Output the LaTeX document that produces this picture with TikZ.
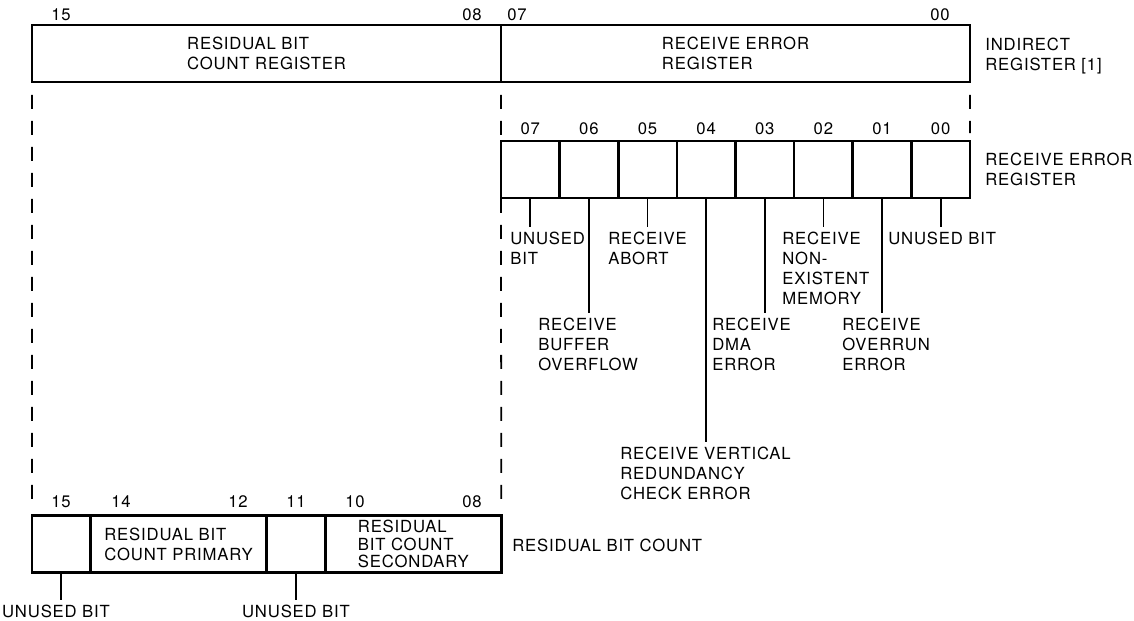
\documentclass[tikz,border=0pt]{standalone}
\usepackage{fontspec}
\setmainfont{TeX Gyre Heros}[LetterSpace=5]
\usetikzlibrary{positioning}

\begin{document}
\begin{tikzpicture}[x=0.02cm, y=-0.02cm,
    reg/.style={draw, line width=1.5pt, minimum height=1.14cm, inner sep=0pt, outer sep=0pt, align=left, font=\fontsize{9.5}{11.4}\selectfont},
    cell/.style={reg, minimum width=1.1725cm},
    lbl/.style={inner sep=0pt, align=left, font=\fontsize{9.5}{11.4}\selectfont},
    num/.style={inner sep=0pt, font=\fontsize{9.5}{11.4}\selectfont},
    lead/.style={line width=1pt, shorten >=0.09cm},
    guide/.style={line width=1pt, dash pattern=on 0.28cm off 0.24cm}
]
\useasboundingbox (0,0) rectangle (1134,621);

% indirect register [1]
\node[reg, minimum width=9.38cm] (rbc) at (266.5,53.5) {RESIDUAL BIT\\COUNT REGISTER};
\node[reg, minimum width=9.38cm] (rer) at (735.5,53.5) {RECEIVE ERROR\\REGISTER};
\node[num, anchor=base] (t15) at (61,21) {15};
\node[num, anchor=base] (t08) at (472,21) {08};
\node[num, anchor=base] (t07) at (517,21) {07};
\node[num, anchor=base] (t00) at (940,21) {00};
\node[lbl, anchor=north west] (ind) at (985,38) {INDIRECT\\REGISTER [1]};

% receive error register
\foreach \b [count=\i from 0] in {07,06,05,04,03,02,01,00} {
  \node[cell] (c\b) at ({530.3+58.625*\i},169.5) {};
  \node[num, above=0.12cm of c\b] (n\b) {\b};
}
\node[lbl, anchor=north west] (rerl) at (985,153) {RECEIVE ERROR\\REGISTER};

\node[lbl, anchor=north west] (l07) at (510,232) {UNUSED\\BIT};
\node[lbl, anchor=north west] (l06) at (538,318) {RECEIVE\\BUFFER\\OVERFLOW};
\node[lbl, anchor=north west] (l05) at (608,232) {RECEIVE\\ABORT};
\node[lbl, anchor=north west] (l04) at (620,447) {RECEIVE VERTICAL\\REDUNDANCY\\CHECK ERROR};
\node[lbl, anchor=north west] (l03) at (712,318) {RECEIVE\\DMA\\ERROR};
\node[lbl, anchor=north west] (l02) at (782,232) {RECEIVE\\NON-\\EXISTENT\\MEMORY};
\node[lbl, anchor=north west] (l01) at (842,318) {RECEIVE\\OVERRUN\\ERROR};
\node[lbl, anchor=north west] (l00) at (888,232) {UNUSED BIT};
\foreach \b in {07,06,05,04,03,02,01,00}
  \draw[lead] (c\b.south) -- (c\b.south |- l\b.north);

% residual bit count
\node[cell] (b15) at (61.3,544) {};
\node[reg, minimum width=3.5175cm] (b14) at (178.5,544) {RESIDUAL BIT\\COUNT PRIMARY};
\node[cell] (b11) at (296.1,544) {};
\node[reg, minimum width=3.5175cm, font=\fontsize{9.5}{9.8}\selectfont] (b10) at (413.3,544) {RESIDUAL\\BIT COUNT\\SECONDARY};
\node[num, anchor=base] (m15) at (61,508) {15};
\node[num, anchor=base] (m14) at (121,508) {14};
\node[num, anchor=base] (m12) at (238,508) {12};
\node[num, anchor=base] (m11) at (296,508) {11};
\node[num, anchor=base] (m10) at (355,508) {10};
\node[num, anchor=base] (m08) at (472,508) {08};
\node[lbl, anchor=north west] (rbcl) at (512,539) {RESIDUAL BIT COUNT};

\node[lbl, anchor=north] (u15) at (56,605) {UNUSED BIT};
\node[lbl, anchor=north] (u11) at (296,605) {UNUSED BIT};
\draw[lead] (b15.south) -- (b15.south |- u15.north);
\draw[lead] (b11.south) -- (b11.south |- u11.north);

% dashed guides
\draw[guide, shorten <=0.26cm, shorten >=0.1cm] (rbc.south west) -- (b15.north west);
\draw[guide, shorten <=0.26cm, shorten >=0.1cm] (rbc.south east) -- (b10.north east);
\draw[guide, shorten <=0.26cm, shorten >=0.16cm] (rer.south east) -- (c00.north east);
\end{tikzpicture}
\end{document}
